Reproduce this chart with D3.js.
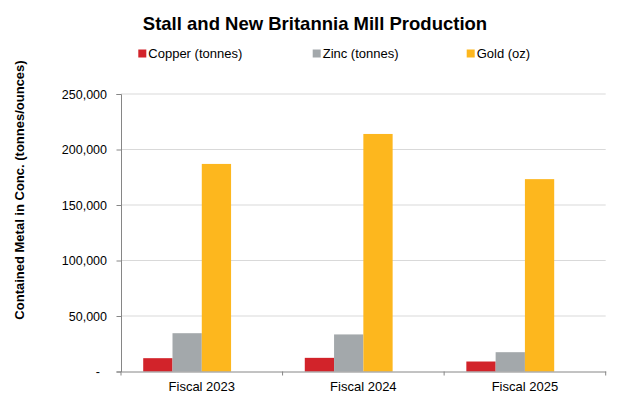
<!DOCTYPE html>
<html>
<head>
<meta charset="utf-8">
<script src="https://cdn.jsdelivr.net/npm/d3@7"></script>
<style>
  html, body { margin: 0; padding: 0; background: #fff; }
  svg { display: block; font-family: "Liberation Sans", Arial, sans-serif; }
</style>
</head>
<body>
<svg id="chart" width="641" height="396"></svg>
<script>
const categories = ["Fiscal 2023", "Fiscal 2024", "Fiscal 2025"];
const seriesNames = ["Copper (tonnes)", "Zinc (tonnes)", "Gold (oz)"];
const copper = [12000, 12300, 9000];
const zinc = [34500, 33400, 17400];
const gold = [187000, 214000, 173300];
const seriesColors = ["#d2232a", "#a3a8ab", "#fdb71e"];
const yTicks = [0, 50000, 100000, 150000, 200000, 250000];
const title = "Stall and New Britannia Mill Production";
const yTitle = "Contained Metal in Conc. (tonnes/ounces)";

const seriesValues = [copper, zinc, gold];

const svg = d3.select("#chart");
const plotLeft = 121, plotRight = 605.7, plotTop = 94, plotBottom = 371.5;

const x0 = d3.scaleBand().domain(categories).range([plotLeft, plotRight]).padding(0);
const slotGap = x0.bandwidth() * 0.1375;
// Excel layout reserves a fourth (empty) slot in each cluster
const x1 = d3.scaleBand().domain([...seriesNames, "__empty"]).range([slotGap, x0.bandwidth() - slotGap]).padding(0);
const y = d3.scaleLinear().domain([0, 250000]).range([plotBottom, plotTop]);

// gridlines
svg.append("g").selectAll("line").data(yTicks.filter(d => d > 0)).join("line")
  .attr("x1", plotLeft).attr("x2", plotRight)
  .attr("y1", d => y(d)).attr("y2", d => y(d))
  .attr("stroke", "#d9d9d9").attr("stroke-width", 1);

// bars
const groups = svg.append("g").selectAll("g").data(categories).join("g")
  .attr("transform", d => `translate(${x0(d)},0)`);
groups.selectAll("rect")
  .data((c, i) => seriesNames.map((s, j) => ({ s, j, v: seriesValues[j][i] })))
  .join("rect")
  .attr("x", d => x1(d.s))
  .attr("width", x1.bandwidth())
  .attr("y", d => y(d.v))
  .attr("height", d => y(0) - y(d.v))
  .attr("fill", d => seriesColors[d.j]);

// y axis
const yAxis = d3.axisLeft(y).tickValues(yTicks).tickSize(4.5).tickPadding(9.5)
  .tickFormat(d => d === 0 ? "-" : d3.format(",")(d));
const gy = svg.append("g").attr("transform", `translate(${plotLeft},0)`).call(yAxis);
gy.select(".domain").attr("stroke", "#868686");
gy.selectAll(".tick line").attr("stroke", "#868686");
gy.selectAll(".tick text").attr("font-size", 12.5).attr("fill", "#000")
  .attr("font-family", "'Liberation Sans', Arial, sans-serif")
  .attr("dx", d => d === 0 ? -7 : 0);

// x axis
const xAxis = d3.axisBottom(x0).tickSize(0).tickPadding(10);
const gx = svg.append("g").attr("transform", `translate(0,${plotBottom})`).call(xAxis);
gx.select(".domain").attr("stroke", "#868686");
gx.selectAll(".tick text").attr("font-size", 13).attr("fill", "#000")
  .attr("font-family", "'Liberation Sans', Arial, sans-serif");
const boundaries = [...categories.map(c => x0(c)), plotRight];
gx.selectAll(".bound").data(boundaries).join("line").attr("class", "bound")
  .attr("x1", d => d).attr("x2", d => d).attr("y1", 0).attr("y2", 4)
  .attr("stroke", "#868686");

// title
svg.append("text").attr("x", 315).attr("y", 30).attr("text-anchor", "middle")
  .attr("font-size", 18.5).attr("font-weight", "bold").attr("fill", "#000").text(title);

// y title
svg.append("text").attr("transform", "translate(24,190) rotate(-90)")
  .attr("text-anchor", "middle").attr("font-size", 13).attr("font-weight", "bold")
  .attr("fill", "#000").text(yTitle);

// legend
const legendX = [138.3, 312.7, 466.7];
const lg = svg.append("g").selectAll("g").data(seriesNames).join("g")
  .attr("transform", (d, i) => `translate(${legendX[i]},49.5)`);
lg.append("rect").attr("width", 8).attr("height", 8).attr("fill", (d, i) => seriesColors[i]);
lg.append("text").attr("x", 10).attr("y", 8.3).attr("font-size", 13).attr("fill", "#000").text(d => d);
</script>
</body>
</html>
